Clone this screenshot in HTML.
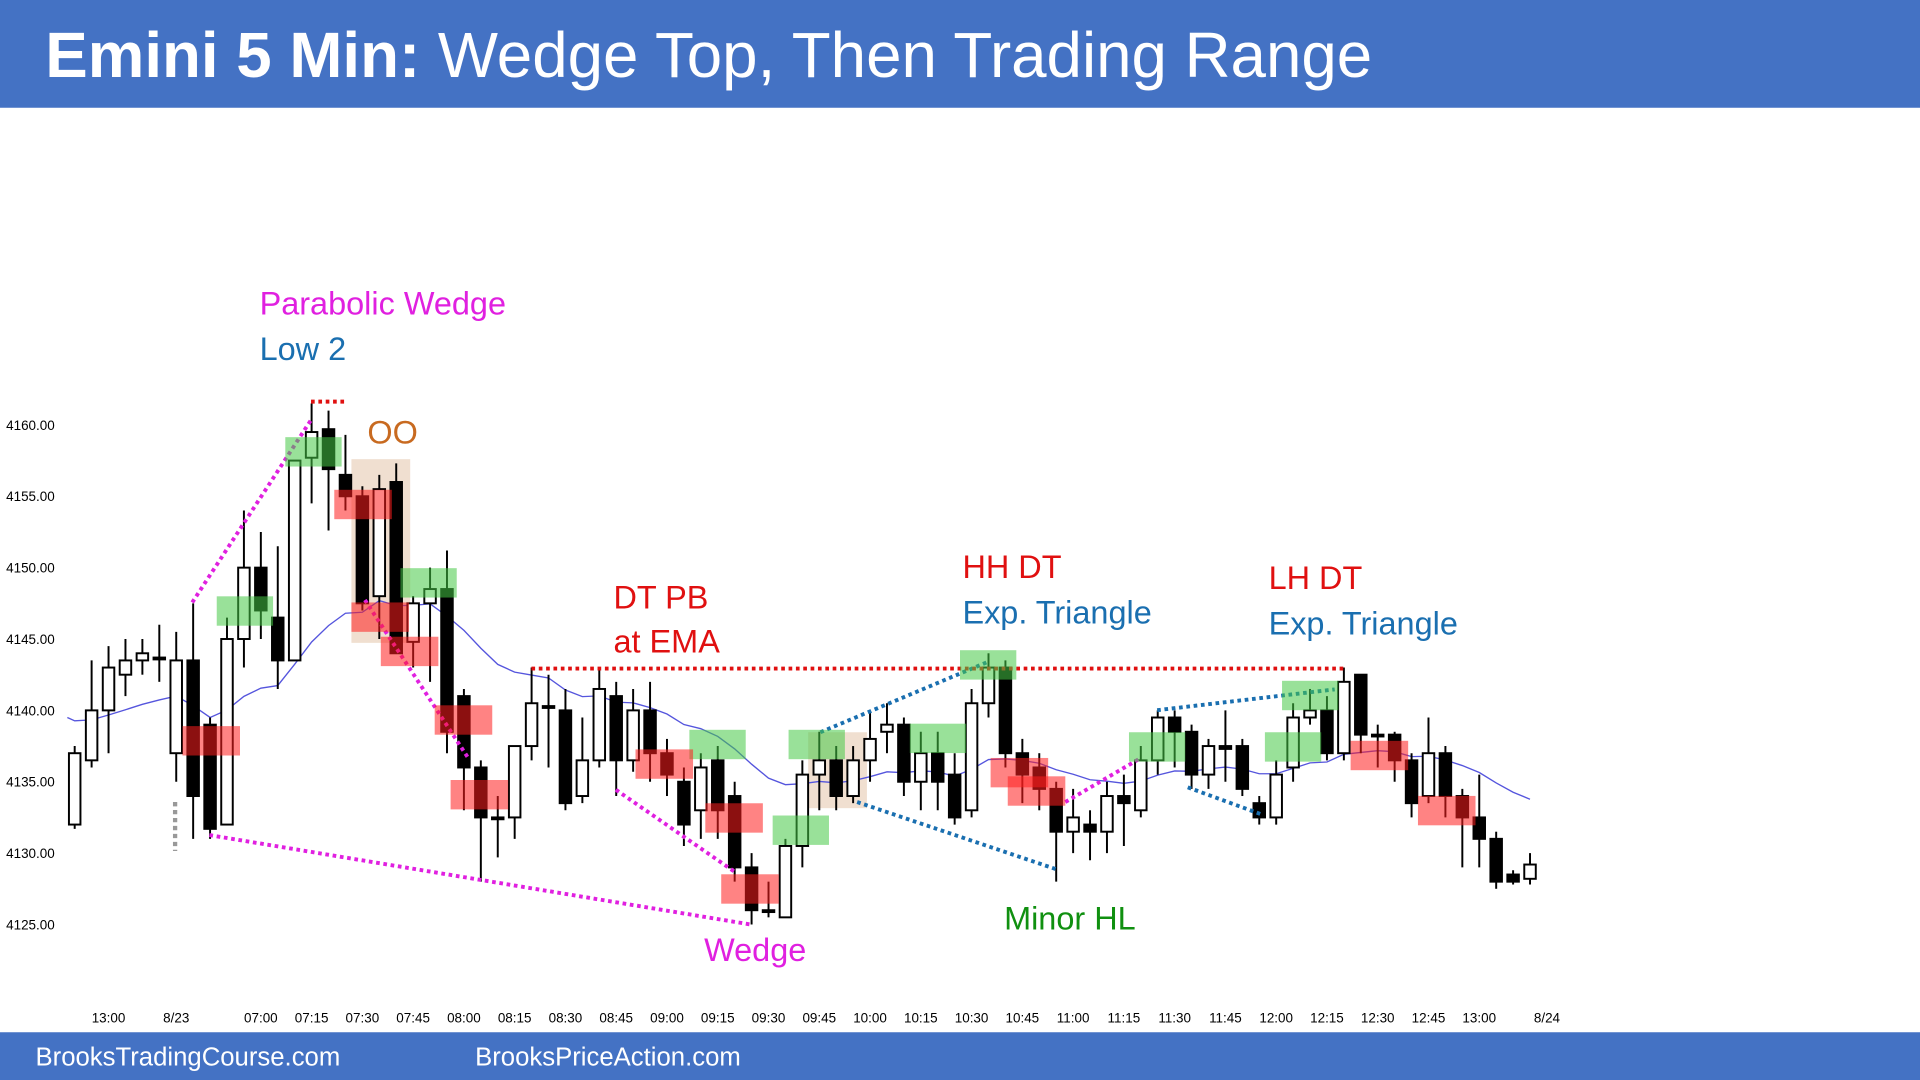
<!DOCTYPE html>
<html><head><meta charset="utf-8"><style>
html,body{margin:0;padding:0;background:#fff;width:1920px;height:1080px;overflow:hidden}
svg{display:block}
text{font-family:"Liberation Sans",sans-serif}
</style></head><body>
<svg id="chart" width="1920" height="1080" viewBox="0 0 1568 882" preserveAspectRatio="none" xmlns="http://www.w3.org/2000/svg">
<rect x="0" y="0" width="1568" height="88" fill="#4472C4"/>
<text x="37" y="63" font-size="52" fill="#fff"><tspan font-weight="bold">Emini 5 Min:</tspan> Wedge Top, Then Trading Range</text>
<rect x="0" y="843" width="1568" height="39" fill="#4472C4"/>
<text x="29" y="870" font-size="21" fill="#fff">BrooksTradingCourse.com</text>
<text x="388" y="870" font-size="21" fill="#fff">BrooksPriceAction.com</text>
<g id="boxes"></g>
<g id="ema"></g>
<g id="candles"></g>
<g id="lines"></g>
<g id="axes"></g>
<g id="notes"></g>
</svg>
<script>
const opens=[4132,4136.5,4140,4142.5,4143.5,4143.7,4137,4143.5,4139,4132,4145,4150,4146.5,4143.5,4157.7,4159.7,4156.5,4155,4148,4156,4144.8,4147.5,4148.5,4141,4136,4132.5,4132.5,4137.5,4140.3,4140,4134,4136.5,4141,4136.5,4140,4137,4135,4133,4136.5,4134,4129,4126,4125.5,4130.5,4135.5,4136.5,4134,4136.5,4138.5,4139,4135,4137,4135.5,4133,4140.5,4143,4137,4136,4134.5,4131.5,4132,4131.5,4134,4133,4136.5,4139.5,4138.5,4135.5,4137.5,4137.5,4133.5,4132.5,4136,4139.5,4140,4137,4142.5,4138.3,4138.3,4136.5,4134,4137,4134,4132.5,4131,4128.5,4128.2];
const highs=[4137.5,4143.5,4144.5,4145,4145,4146,4145.5,4147.5,4139.5,4146.5,4154,4152.5,4151.5,4157.5,4161.5,4161,4159.3,4155.7,4156.5,4157.3,4148,4150,4151.2,4141.5,4136.5,4134,4137.5,4143,4142.5,4141.5,4139.5,4143,4142,4141.5,4142,4138,4136,4137,4137.5,4135,4130,4128,4131,4136.5,4138.5,4137.5,4137.5,4140,4140.5,4139.5,4138.5,4138.5,4137,4141.5,4144,4143.5,4138,4137,4135,4134.5,4133,4135,4135.5,4137.5,4140,4140,4139,4138,4140,4138,4134,4136.5,4140.5,4141.5,4141,4143,4142.5,4139,4138.5,4137,4139.5,4137.5,4134.5,4135.5,4131.5,4128.8,4130];
const lows=[4131.7,4136,4137,4141,4142.5,4142,4135,4131,4131,4132,4143,4145,4141.5,4143.5,4154.5,4152.6,4154,4147,4145,4144,4143,4142,4137,4133,4128,4129.7,4131,4136.5,4136,4133,4133.5,4136,4134,4135.7,4135,4134,4130.5,4131,4131,4128,4125,4125.5,4125.5,4129,4133,4133,4133.5,4135,4137,4134,4133,4133,4132,4132.5,4139.5,4136,4133.5,4133,4128,4130,4129.5,4130,4130.5,4132.5,4135.5,4136,4134.5,4134.5,4135,4134,4132,4132,4135,4139,4136.5,4136.5,4137,4136,4135,4132.5,4133.5,4132.5,4129,4129,4127.5,4127.8,4127.8];
const closes=[4137,4140,4143,4143.5,4144,4143.7,4143.5,4134,4131.7,4145,4150,4147,4143.5,4157.5,4159.5,4156.9,4155,4147.5,4155.5,4144,4147.5,4148.5,4138.5,4136,4132.5,4132.5,4137.5,4140.5,4140.3,4133.5,4136.5,4141.5,4136.5,4140,4137,4135.5,4132,4136,4133,4129,4126,4126,4130.5,4135.5,4136.5,4134,4136.5,4138,4139,4135,4137,4135,4132.5,4140.5,4143,4137,4135.5,4134.5,4131.5,4132.5,4131.5,4134,4133.5,4136.5,4139.5,4138.5,4135.5,4137.5,4137.3,4134.5,4132.5,4135.5,4139.5,4140,4137,4142,4138.3,4138.3,4136.5,4133.5,4137,4134,4132.5,4131,4128,4128,4129.2];
const priceTicks=[4160,4155,4150,4145,4140,4135,4130,4125];
const timeLabels=["13:00","8/23","07:00","07:15","07:30","07:45","08:00","08:15","08:30","08:45","09:00","09:15","09:30","09:45","10:00","10:15","10:30","10:45","11:00","11:15","11:30","11:45","12:00","12:15","12:30","12:45","13:00","8/24"];
const timeIdx=[2,6,11,14,17,20,23,26,29,32,35,38,41,44,47,50,53,56,59,62,65,68,71,74,77,80,83,87];

const NS="http://www.w3.org/2000/svg";
function y(p){return 347+(4160-p)*11.657;}
function x(i){return 61+i*13.82;}
function mk(tag,attrs,parent){const e=document.createElementNS(NS,tag);for(const k in attrs)e.setAttribute(k,attrs[k]);document.getElementById(parent).appendChild(e);return e;}

const greenBoxes=[[177,487],[233,357],[327,464],[563,596],[644,596],[631,666],[743,591],[784,531],[922,598],[1033,598],[1047,556]];
const redBoxes=[[149,593],[273,400],[287,492],[311,520],[355,576],[368,637],[519,612],[576,656],[589,714],[809,619],[823,634],[1103,605],[1158,650]];
const tan=mk('rect',{x:287,y:375,width:48,height:150,fill:'rgba(205,150,100,0.3)'},'boxes');


const tan2=mk('rect',{x:660,y:598,width:48,height:62,fill:'rgba(205,150,100,0.3)'},'boxes');


greenBoxes.forEach(b=>{const r=mk('rect',{x:b[0],y:b[1],width:46,height:24,fill:'rgba(70,200,70,0.55)'},'notes');

});
redBoxes.forEach(b=>{const r=mk('rect',{x:b[0],y:b[1],width:47,height:24,fill:'rgba(255,30,30,0.55)'},'notes');

});

let e=4139.5,pts=[];const a=2/21;
closes.forEach((c,i)=>{e=e+a*(c-e);pts.push(x(i).toFixed(1)+','+y(e).toFixed(1));});
const emaLine=mk('polyline',{points:'55,'+y(4139.5).toFixed(1)+' '+pts.join(' '),fill:'none',stroke:'#5555dd','stroke-width':1.1},'ema');



opens.forEach((o,i)=>{const c=closes[i];const cx=x(i);
const w=mk('line',{x1:cx,x2:cx,y1:y(highs[i]),y2:y(lows[i]),stroke:'#000','stroke-width':1.6},'candles');


const top=y(Math.max(o,c)),bot=y(Math.min(o,c));
const b=mk('rect',{x:cx-4.7,y:top,width:9.4,height:Math.max(bot-top,1.5),fill:c>=o?'#fff':'#000',stroke:'#000','stroke-width':1.6},'candles');

});

const dots=[[157,492,254,343,'#e020e0'],[298,490,383,620,'#e020e0'],[171,682,613,755,'#e020e0'],[503,645,600,712,'#e020e0'],[870,655,930,620,'#e020e0'],
[670,598,808,540,'#1a6fb0'],[700,655,863,710,'#1a6fb0'],[945,580,1090,563,'#1a6fb0'],[970,643,1030,665,'#1a6fb0'],
[434,546,1098,546,'#e01010'],[254,328,284,328,'#e01010']];
dots.forEach(d=>{const l=mk('line',{x1:d[0],y1:d[1],x2:d[2],y2:d[3],stroke:d[4],'stroke-width':3.2,'stroke-dasharray':'3 3'},'lines');

});
const g=mk('line',{x1:143,y1:655,x2:143,y2:695,stroke:'#999','stroke-width':3.5,'stroke-dasharray':'3.5 3'},'lines');



priceTicks.forEach(p=>{const t=mk('text',{x:5,y:y(p)+4,'font-size':11,fill:'#000'},'axes');t.textContent=p.toFixed(2);

});
timeLabels.forEach((s,k)=>{const t=mk('text',{x:x(timeIdx[k]),y:835,'font-size':11,fill:'#000','text-anchor':'middle'},'axes');t.textContent=s;

});

const notes=[["Parabolic Wedge",212,257,'#e020e0'],["Low 2",212,294,'#1a6fb0'],["OO",300,362,'#c86a20'],["DT PB",501,497,'#e01010'],["at EMA",501,533,'#e01010'],
["HH DT",786,472,'#e01010'],["Exp. Triangle",786,509,'#1a6fb0'],["LH DT",1036,481,'#e01010'],["Exp. Triangle",1036,518,'#1a6fb0'],["Wedge",575,785,'#e020e0'],["Minor HL",820,759,'#109010']];
notes.forEach(n=>{const t=mk('text',{x:n[1],y:n[2],'font-size':26.5,fill:n[3]},'notes');t.textContent=n[0];

});
</script>
</body></html>
